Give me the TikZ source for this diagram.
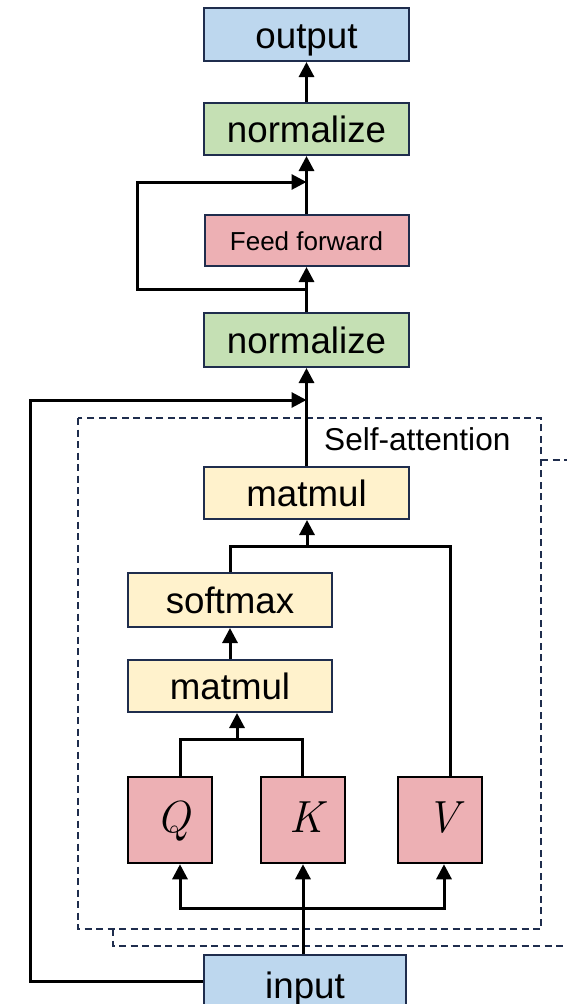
\documentclass[tikz,border=0pt]{standalone}
\usepackage{fontspec}
\setmainfont{Liberation Sans}
\newfontfamily\qkvfont{Latin Modern Roman}
\usetikzlibrary{arrows.meta}
\definecolor{navy}{HTML}{1F2D4D}
\definecolor{ioblue}{HTML}{BDD7EE}
\definecolor{normgreen}{HTML}{C5E0B4}
\definecolor{opink}{HTML}{EDB0B4}
\definecolor{opyellow}{HTML}{FFF2CC}
\tikzset{
  blk/.style={draw=navy, line width=2pt, inner sep=0pt, align=center,
    font=\fontsize{36.7}{40}\selectfont, text height=27.5pt, text depth=0pt},
  iobox/.style={blk, fill=ioblue},
  normbox/.style={blk, fill=normgreen},
  opbox/.style={blk, fill=opyellow},
  ffbox/.style={blk, fill=opink, font=\fontsize{26}{30}\selectfont, text height=19.5pt},
  qkvbox/.style={draw=black, line width=2.5pt, fill=opink, inner sep=0pt,
    minimum width=84pt, minimum height=86pt,
    font=\qkvfont\itshape\fontsize{45}{48}\selectfont,
    text height=24pt, text depth=0pt},
  wire/.style={line width=3pt, line join=miter},
  arr/.style={wire, -{Triangle[width=15pt,length=15pt]}},
  frame/.style={draw=navy, line width=2pt, dash pattern=on 7pt off 4.5pt}
}
\begin{document}
\begin{tikzpicture}[x=1pt,y=-1pt]
\useasboundingbox (0,0) rectangle (567,1004);

% self-attention frame and the stacked layer behind it
\draw[frame] (78,418) rectangle (541,929);
\draw[frame] (541,460) -- (567,460);
\draw[frame] (113,929) -- (113,946) -- (567,946);
\node[anchor=base west, font=\fontsize{31.6}{36}\selectfont, inner sep=0pt] (satt) at (324,450) {Self-attention};

% blocks
\node[iobox, minimum width=205pt, minimum height=53pt] (out) at (306.5,34.5) {output};
\node[normbox, minimum width=205pt, minimum height=52pt] (nrm2) at (306.5,129) {normalize};
\node[ffbox, minimum width=204pt, minimum height=51pt] (ff) at (306.5,240.5) {Feed forward};
\node[normbox, minimum width=205pt, minimum height=54pt] (nrm1) at (306.5,340) {normalize};
\node[opbox, minimum width=205pt, minimum height=52pt] (mmb) at (306.5,493) {matmul};
\node[opbox, minimum width=204pt, minimum height=54pt] (sm) at (230,600) {softmax};
\node[opbox, minimum width=204pt, minimum height=52pt] (mma) at (230,686) {matmul};
\node[qkvbox] (q) at (170,820) {\kern6pt Q};
\node[qkvbox] (k) at (303,820) {\kern6pt K};
\node[qkvbox] (v) at (440,820) {\kern6pt V};
\node[iobox, minimum width=202pt, minimum height=60pt] (in) at (305,985) {input};

% routing points
\coordinate (qkvsplit) at (303,908);
\coordinate (qkjoin) at (237,739);
\coordinate (smvjoin) at (307,546);
\coordinate (resA) at (30,400);
\coordinate (resB) at (306.5,400);
\coordinate (ffsplit) at (306.5,289);
\coordinate (ffL) at (137,289);
\coordinate (ffjoin) at (306.5,182);

% input fan-out to Q, K, V
\draw[arr] (in.north -| k.south) -- (k.south);
\draw[arr] (qkvsplit) -| ([xshift=10pt]q.south);
\draw[arr] (qkvsplit) -| ([xshift=4pt]v.south);

% Q and K into first matmul
\draw[wire] ([xshift=10pt]q.north) |- (qkjoin) -| ([xshift=-1pt]k.north);
\draw[arr] (qkjoin) -- (qkjoin |- mma.south);
\draw[arr] (mma.north) -- (sm.south);

% softmax and V into second matmul
\draw[wire] (sm.north) |- (smvjoin) -| ([xshift=10pt]v.north);
\draw[arr] (smvjoin) -- (smvjoin |- mmb.south);
\draw[arr] (mmb.north) -- (nrm1.south);

% residual around attention
\draw[arr] ([yshift=4pt]in.west) -| (resA) -- (resB);

% feed-forward block with residual
\draw[arr] (nrm1.north) -- (ff.south);
\draw[arr] (ffsplit) -- (ffL) |- (ffjoin);
\draw[arr] (ff.north) -- (nrm2.south);
\draw[arr] (nrm2.north) -- (out.south);
\end{tikzpicture}
\end{document}
